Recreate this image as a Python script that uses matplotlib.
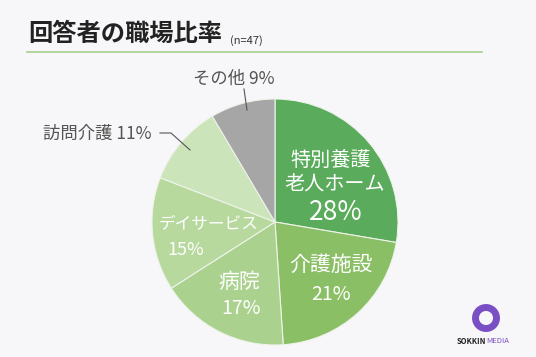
import matplotlib
matplotlib.use('Agg')
from matplotlib import pyplot as plt
from matplotlib.patches import Circle

plt.rcParams['font.family'] = ['Noto Sans CJK JP', 'DejaVu Sans']

# data (counts out of n=47)
labels = ['特別養護\n老人ホーム', '介護施設', '病院', 'デイサービス', '訪問介護', 'その他']
counts = [13, 10, 8, 7, 5, 4]
pcts = ['28%', '21%', '17%', '15%', '11%', '9%']
colors = ['#5aab5b', '#8bbf66', '#aad18e', '#b8d99e', '#cce4ba', '#a6a6a6']

W, H = 536, 357
fig = plt.figure(figsize=(W / 100, H / 100), dpi=100)
fig.patch.set_facecolor('#f7f7f9')

# pie axes: center (275, 222) px, radius 123 px
cx, cy, r = 275, 222, 123
ax = fig.add_axes([(cx - r) / W, (H - cy - r) / H, 2 * r / W, 2 * r / H])
ax.pie(counts, colors=colors, startangle=90, counterclock=False,
       wedgeprops=dict(edgecolor='#eef3ea', linewidth=0.8))
ax.set_xlim(-1, 1)
ax.set_ylim(-1, 1)
ax.set_aspect('equal')
ax.axis('off')

# overlay in pixel coords
ov = fig.add_axes([0, 0, 1, 1])
ov.set_xlim(0, W)
ov.set_ylim(H, 0)
ov.axis('off')
ov.patch.set_alpha(0)

ov.text(28, 34, '回答者の職場比率', fontsize=17.5, fontweight='bold', color='#222222', va='center')
ov.text(230, 41, '(n=47)', fontsize=8, color='#333333', va='center')
ov.plot([27, 482], [52, 52], color='#a6cf8c', lw=1.2)

# inside labels
ov.text(331, 160, '特別養護', fontsize=14.5, color='white', ha='center', va='center')
ov.text(335, 185, '老人ホーム', fontsize=14.5, color='white', ha='center', va='center')
ov.text(336, 213, pcts[0], fontsize=19, color='white', ha='center', va='center')
ov.text(331, 265, labels[1], fontsize=15, color='white', ha='center', va='center')
ov.text(331, 295, pcts[1], fontsize=14, color='white', ha='center', va='center')
ov.text(239, 282, labels[2], fontsize=15, color='white', ha='center', va='center')
ov.text(241, 308, pcts[2], fontsize=14, color='white', ha='center', va='center')
ov.text(208, 225, labels[3], fontsize=12, color='white', ha='center', va='center')
ov.text(186, 250, pcts[3], fontsize=13, color='white', ha='center', va='center')

# outside labels
ov.text(97, 134, labels[4] + ' ' + pcts[4], fontsize=12.5, color='#555555', ha='center', va='center')
ov.plot([160, 171, 190], [133, 133, 150], color='#555555', lw=0.8)
ov.text(234, 79, labels[5] + ' ' + pcts[5], fontsize=12.5, color='#555555', ha='center', va='center')
ov.plot([244, 247], [89, 110], color='#555555', lw=0.8)

# logo
ov.add_patch(Circle((486, 318), 10.5, fill=False, lw=5, edgecolor='#7b4fc4'))
ov.text(486, 341, 'SOKKIN', fontsize=5.5, fontweight='bold', color='#222222', ha='right', va='center')
ov.text(486, 341, 'MEDIA', fontsize=5.5, color='#7b4fc4', ha='left', va='center')

fig.savefig('out.png', dpi=100, facecolor=fig.get_facecolor())
